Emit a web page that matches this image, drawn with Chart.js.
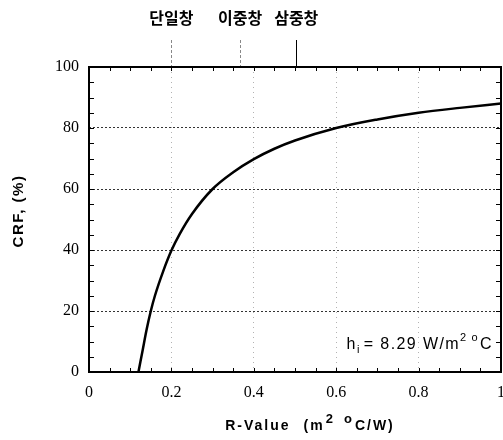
<!DOCTYPE html>
<html>
<head>
<meta charset="utf-8">
<script src="https://cdn.jsdelivr.net/npm/chart.js@4"></script>
<style>
body { margin: 0; background: #fff; }
canvas { display: block; }
</style>
</head>
<body>
<canvas id="crfChart" width="503" height="440"></canvas>
<script>
// R-value of the window (m2 C/W) and CRF (%)
const rValues = [0.12, 0.13, 0.14, 0.15, 0.16, 0.18, 0.20, 0.22, 0.25, 0.30, 0.35, 0.40, 0.45, 0.50, 0.60, 0.70, 0.80, 0.90, 1.00];
const crfValues = [0, 7, 14, 20, 25, 33, 39.8, 45.2, 51.8, 60, 65.5, 69.8, 73.2, 75.9, 80, 82.8, 85, 86.6, 88];

// window types marked on the top axis
const windowNames = ['단일창', '이중창', '삼중창'];
const windowR = [0.2, 0.367, 0.503];

const xTicks = [0, 0.2, 0.4, 0.6, 0.8, 1];
const yTicks = [0, 20, 40, 60, 80, 100];

const points = rValues.map((r, i) => ({ x: r, y: crfValues[i] }));

// draws text pieces (with sub/superscripts) one after another
function drawPieces(c, pieces, x, y) {
	pieces.forEach(p => {
		c.font = p.f;
		c.fillText(p.t, x, y + p.dy);
		x += c.measureText(p.t).width + p.gap;
	});
}
function piecesWidth(c, pieces) {
	let w = 0;
	pieces.forEach(p => { c.font = p.f; w += c.measureText(p.t).width + p.gap; });
	return w;
}

// frame, minor ticks, titles and the h_i note
const extras = {
	id: 'extras',
	afterDraw(chart) {
		const c = chart.ctx;
		const a = chart.chartArea;
		const xs = chart.scales.x, ys = chart.scales.y;
		c.save();
		c.strokeStyle = '#000';
		c.lineWidth = 2;
		c.setLineDash([]);
		c.strokeRect(a.left, a.top, a.right - a.left, a.bottom - a.top);

		c.lineWidth = 1;
		c.beginPath();
		for (let v = 0; v <= 100; v += 5) {
			const py = Math.round(ys.getPixelForValue(v)) + 0.5;
			c.moveTo(a.left, py); c.lineTo(a.left + 5, py);
			c.moveTo(a.right, py); c.lineTo(a.right - 5, py);
		}
		for (let k = 0; k <= 20; k++) {
			const px = Math.round(xs.getPixelForValue(k * 0.05)) + 0.5;
			c.moveTo(px, a.top); c.lineTo(px, a.top + 4);
			c.moveTo(px, a.bottom); c.lineTo(px, a.bottom - 4);
		}
		c.stroke();

		c.fillStyle = '#000';
		c.textBaseline = 'alphabetic';

		// y title
		c.save();
		c.translate(23, 211);
		c.rotate(-Math.PI / 2);
		c.font = 'bold 15px "Liberation Sans"';
		c.letterSpacing = '1.5px';
		c.textAlign = 'center';
		c.fillText('CRF, (%)', 0, 0);
		c.restore();

		// x title with superscripts
		const big = 'bold 14px "Liberation Sans"';
		const small = 'bold 13px "Liberation Sans"';
		const title = [
			{ t: 'R-Value', f: big, dy: 0, gap: 13 },
			{ t: '(m', f: big, dy: 0, gap: 1 },
			{ t: '2', f: small, dy: -7, gap: 9 },
			{ t: 'o', f: small, dy: -7, gap: 1 },
			{ t: 'C/W)', f: big, dy: 0, gap: 0 }
		];
		c.letterSpacing = '2px';
		drawPieces(c, title, 310 - piecesWidth(c, title) / 2, 430);

		// note
		c.letterSpacing = '1.4px';
		const nf = '16px "Liberation Sans"';
		const ns = '11px "Liberation Sans"';
		const note = [
			{ t: 'h', f: nf, dy: 0, gap: 0 },
			{ t: 'i', f: ns, dy: 4, gap: 3 },
			{ t: '= 8.29 W/m', f: nf, dy: 0, gap: 0 },
			{ t: '2', f: ns, dy: -8, gap: 4 },
			{ t: 'o', f: ns, dy: -8, gap: 1 },
			{ t: 'C', f: nf, dy: 0, gap: 0 }
		];
		drawPieces(c, note, 493 - piecesWidth(c, note), 349);
		c.restore();
	}
};

function noSidePadding(s) {
	s.paddingLeft = 0;
	s.paddingRight = 0;
}

const ctx = document.getElementById('crfChart').getContext('2d');
const crfChart = new Chart(ctx, {
	type: 'scatter',
	data: {
		datasets: [
			{
				label: 'CRF',
				data: points,
				showLine: true,
				borderColor: '#000',
				borderWidth: 2.5,
				pointRadius: 0,
				cubicInterpolationMode: 'monotone',
				fill: false
			}
		]
	},
	options: {
		responsive: false,
		animation: false,
		layout: { padding: { top: 0, right: 2, bottom: 0, left: 0 } },
		plugins: {
			legend: { display: false },
			tooltip: { enabled: false }
		},
		scales: {
			x: {
				type: 'linear',
				position: 'bottom',
				min: 0,
				max: 1,
				afterBuildTicks: s => { s.ticks = xTicks.map(v => ({ value: v })); },
				afterFit: s => { s.height = 68; noSidePadding(s); },
				border: { display: false, dash: [1, 4] },
				grid: {
					drawTicks: false,
					color: c => (c.tick && c.tick.value > 0 && c.tick.value < 1) ? 'rgba(0,0,0,0.3)' : 'rgba(0,0,0,0)',
					lineWidth: 1
				},
				ticks: {
					padding: 11,
					color: '#000',
					font: { family: '"Liberation Serif"', size: 16 },
					maxRotation: 0,
					callback: v => String(v)
				}
			},
			x2: {
				type: 'linear',
				position: 'top',
				min: 0,
				max: 1,
				afterBuildTicks: s => { s.ticks = windowR.map(v => ({ value: v })); },
				afterFit: s => { s.height = 67; noSidePadding(s); },
				border: { display: false },
				grid: {
					drawOnChartArea: false,
					drawTicks: true,
					tickLength: 27,
					tickWidth: 1,
					tickColor: c => c.index === 2 ? '#000' : '#888',
					tickBorderDash: c => c.index === 2 ? [] : [3, 2]
				},
				ticks: {
					padding: 12,
					color: '#000',
					maxRotation: 0,
					font: { family: '"Noto Sans CJK KR"', size: 16, weight: 'bold' },
					callback: (v, i) => windowNames[i]
				}
			},
			y: {
				type: 'linear',
				min: 0,
				max: 100,
				afterBuildTicks: s => { s.ticks = yTicks.map(v => ({ value: v })); },
				afterFit: s => { s.width = 89; },
				border: { display: false, dash: [2, 2] },
				grid: {
					drawTicks: false,
					color: c => (c.tick && c.tick.value > 0 && c.tick.value < 100) ? '#333' : 'rgba(0,0,0,0)',
					lineWidth: 1
				},
				ticks: {
					padding: 10,
					color: '#000',
					font: { family: '"Liberation Serif"', size: 16 }
				}
			}
		}
	},
	plugins: [extras]
});
</script>
</body>
</html>
